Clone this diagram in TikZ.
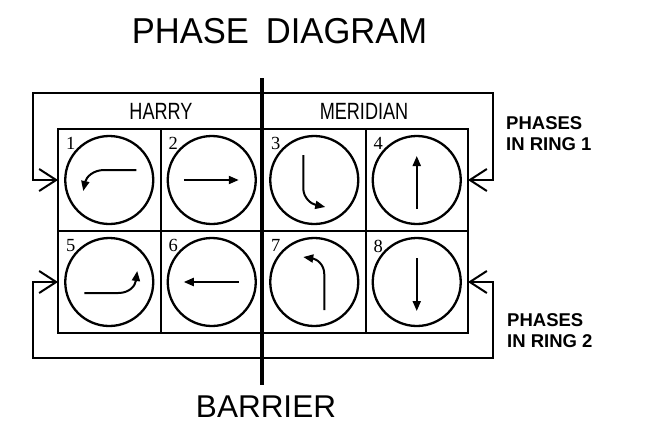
\documentclass[tikz,border=0pt]{standalone}
\usepackage{fontspec}
\setmainfont{Liberation Sans}
\newfontfamily\narrowfont[FakeStretch=0.77]{Liberation Sans}
\newfontfamily\titlefont[FakeStretch=0.96]{Liberation Sans}
\newfontfamily\numfont{Liberation Serif}
\usetikzlibrary{arrows.meta}
\begin{document}
\begin{tikzpicture}[x=1pt,y=-1pt,
  cellbox/.style={draw, line width=2pt, minimum width=102.5pt, minimum height=102pt, inner sep=0pt, outer sep=0pt},
  phasecirc/.style={draw, circle, line width=2.3pt, minimum size=88pt, inner sep=0pt},
  mvt/.style={line width=2pt, -{Triangle[length=10pt,width=8pt]}},
  ringline/.style={line width=2pt, {Straight Barb[length=17pt,width=22pt,line width=2pt]}-{Straight Barb[length=17pt,width=22pt,line width=2pt]}},
  numlab/.style={anchor=north west, inner sep=0pt, font=\numfont\fontsize{18.5}{20}\selectfont},
  ringlab/.style={anchor=base west, inner sep=0pt, font=\bfseries\fontsize{18.5}{21}\selectfont},
  grouplab/.style={anchor=base, inner sep=0pt, font=\narrowfont\fontsize{23.5}{26}\selectfont}
]
\useasboundingbox (0,0) rectangle (647,434);

% cells
\foreach \i/\cx/\cy in {1/109.25/180, 2/211.75/180, 3/314.25/180, 4/416.75/180,
                        5/109.25/282, 6/211.75/282, 7/314.25/282, 8/416.75/282} {
  \node[cellbox] (c\i) at (\cx,\cy) {};
  \node[phasecirc] (p\i) at (\cx,\cy) {};
  \node[numlab] (n\i) at ([shift={(8,8.5)}]c\i.north west) {\i};
}

% movement arrows
\draw[mvt] ([shift={(27,-10)}]p1.center) -- ([shift={(-5,-10)}]p1.center)
  .. controls ([shift={(-16,-10)}]p1.center) and ([shift={(-23,-3)}]p1.center) .. ([shift={(-26,11)}]p1.center);
\draw[mvt] ([shift={(-28,0)}]p2.center) -- ([shift={(27,0)}]p2.center);
\draw[mvt] ([shift={(-11,-25)}]p3.center) -- ([shift={(-11,8)}]p3.center)
  .. controls ([shift={(-11,18)}]p3.center) and ([shift={(-3,24)}]p3.center) .. ([shift={(11,27)}]p3.center);
\draw[mvt] ([shift={(0,29)}]p4.center) -- ([shift={(0,-24)}]p4.center);
\draw[mvt] ([shift={(-25,11)}]p5.center) -- ([shift={(9,11)}]p5.center)
  .. controls ([shift={(20,11)}]p5.center) and ([shift={(26,4)}]p5.center) .. ([shift={(28,-11)}]p5.center);
\draw[mvt] ([shift={(27,0)}]p6.center) -- ([shift={(-28,0)}]p6.center);
\draw[mvt] ([shift={(10,28)}]p7.center) -- ([shift={(10,-8)}]p7.center)
  .. controls ([shift={(10,-18)}]p7.center) and ([shift={(2,-23)}]p7.center) .. ([shift={(-11,-25)}]p7.center);
\draw[mvt] ([shift={(0,-24)}]p8.center) -- ([shift={(0,29)}]p8.center);

% barrier
\coordinate (bt) at (262,78);
\coordinate (bb) at (262,385);
\draw[line width=4pt] (bt) -- (bb);

% ring loops
\coordinate (r1l) at (33,93);
\coordinate (r1r) at (493,93);
\coordinate (r2l) at (33,358);
\coordinate (r2r) at (493,358);
\draw[ringline] (c1.west) -| (r1l) -- (r1r) |- (c4.east);
\draw[ringline] (c5.west) -| (r2l) -- (r2r) |- (c8.east);

% labels
\node[anchor=base, inner sep=0pt, font=\titlefont\fontsize{36}{40}\selectfont] (title) at (279.5,43) {PHASE\hspace{17pt}DIAGRAM};
\node[anchor=base, inner sep=0pt, font=\fontsize{31.5}{34}\selectfont] (barrier) at (266,417) {BARRIER};
\node[grouplab] (harry) at (161,119) {HARRY};
\node[grouplab] (meridian) at (364,119) {MERIDIAN};
\node[ringlab] (l1a) at (506,129.5) {PHASES};
\node[ringlab] (l1b) at (506,150.5) {IN RING 1};
\node[ringlab] (l2a) at (507,326.5) {PHASES};
\node[ringlab] (l2b) at (507,347.5) {IN RING 2};
\end{tikzpicture}
\end{document}
